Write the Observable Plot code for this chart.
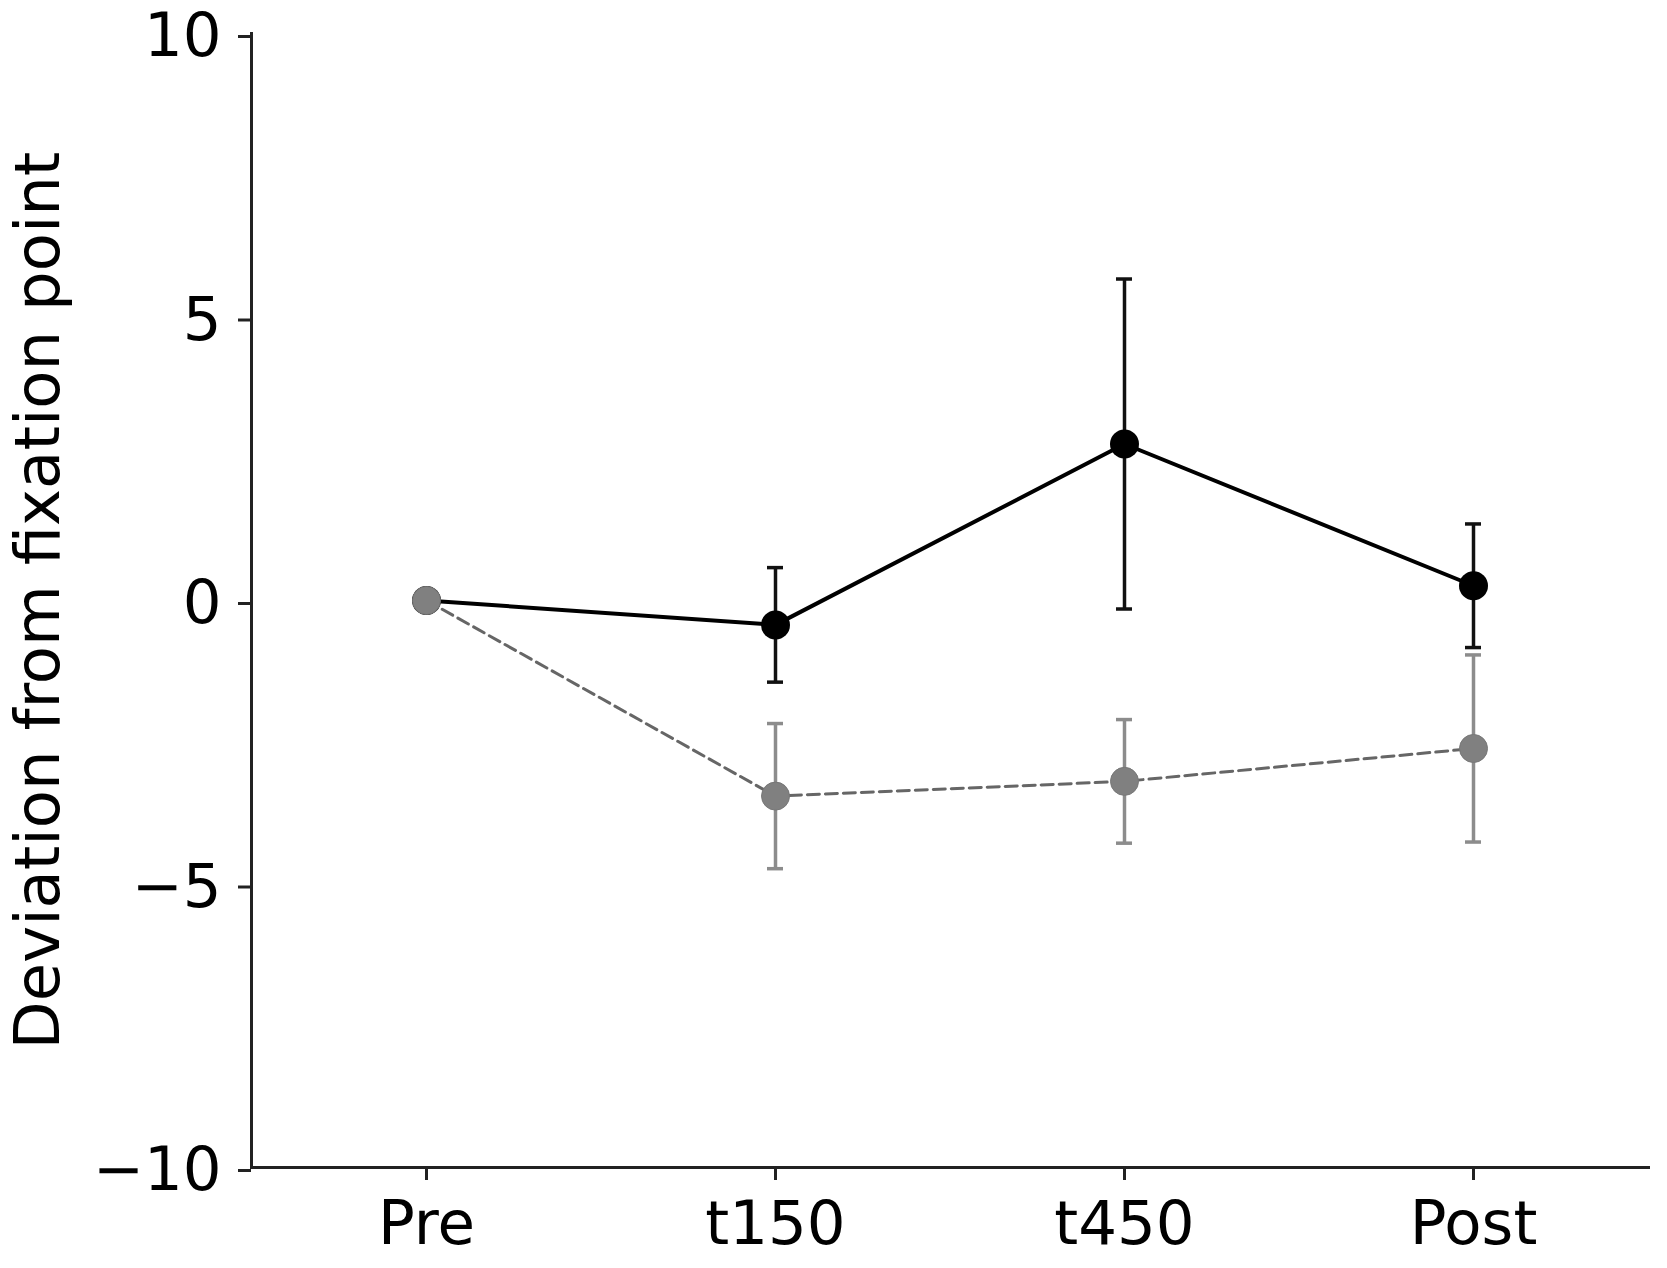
<!DOCTYPE html>
<html>
<head>
<meta charset="utf-8">
<script src="https://cdn.jsdelivr.net/npm/d3@7"></script>
<script src="https://cdn.jsdelivr.net/npm/@observablehq/plot@0.6"></script>
<style>
  html, body { margin: 0; padding: 0; background: white; overflow: hidden; }
</style>
</head>
<body>
<div id="chart"></div>
<script>
const categories = ["Pre", "t150", "t450", "Post"];
const meanBlack = [0, -0.43, 2.76, 0.26];
const errBlack = [null, 1.01, 2.91, 1.09];
const meanGray = [0, -3.45, -3.19, -2.61];
const errGray = [null, 1.28, 1.09, 1.65];
const yTicks = [-10, -5, 0, 5, 10];
const yLabel = "Deviation from fixation point";

const black = categories.map((c, i) => ({cat: c, mean: meanBlack[i], err: errBlack[i]}));
const gray = categories.map((c, i) => ({cat: c, mean: meanGray[i], err: errGray[i]}));
const blackErr = black.filter(d => d.err != null);
const grayErr = gray.filter(d => d.err != null);

const fmt = d => d < 0 ? "\u2212" + Math.abs(d) : String(d);

const chart = Plot.plot({
  width: 1667,
  height: 1268,
  marginLeft: 251,
  marginRight: 19,
  marginTop: 33,
  marginBottom: 101,
  style: {fontFamily: "DejaVu Sans", fontSize: "61px", background: "white", color: "#000"},
  x: {type: "point", domain: categories, padding: 0.5},
  y: {domain: [-10, 10]},
  marks: [
    Plot.frame({anchor: "left", stroke: "#222", strokeWidth: 3}),
    Plot.frame({anchor: "bottom", stroke: "#222", strokeWidth: 3}),
    Plot.axisX({tickSize: 13, tickPadding: 20, label: null, strokeWidth: 3, stroke: "#222"}),
    Plot.axisY({ticks: yTicks, tickFormat: fmt, tickSize: 13, tickPadding: 17, label: null, dy: 3, strokeWidth: 3, stroke: "#222"}),
    Plot.text([yLabel], {text: d => d, frameAnchor: "left", rotate: -90, dx: -213, textAnchor: "middle", lineAnchor: "middle", fontSize: 62.5, fill: "#000"}),
    // black series
    Plot.line(black, {x: "cat", y: "mean", stroke: "#000", strokeWidth: 4}),
    Plot.ruleX(blackErr, {x: "cat", y1: d => d.mean - d.err, y2: d => d.mean + d.err, stroke: "#111", strokeWidth: 3.5}),
    Plot.ruleY(blackErr, {y: d => d.mean + d.err, x1: "cat", x2: "cat", insetLeft: -8, insetRight: -8, stroke: "#111", strokeWidth: 3.5}),
    Plot.ruleY(blackErr, {y: d => d.mean - d.err, x1: "cat", x2: "cat", insetLeft: -8, insetRight: -8, stroke: "#111", strokeWidth: 3.5}),
    Plot.dot(black, {x: "cat", y: "mean", r: 14.5, fill: "#000", stroke: "none"}),
    // gray series
    Plot.line(gray, {x: "cat", y: "mean", stroke: "#666", strokeWidth: 3, strokeDasharray: "12,6"}),
    Plot.ruleX(grayErr, {x: "cat", y1: d => d.mean - d.err, y2: d => d.mean + d.err, stroke: "#8c8c8c", strokeWidth: 3.5}),
    Plot.ruleY(grayErr, {y: d => d.mean + d.err, x1: "cat", x2: "cat", insetLeft: -8, insetRight: -8, stroke: "#8c8c8c", strokeWidth: 3.5}),
    Plot.ruleY(grayErr, {y: d => d.mean - d.err, x1: "cat", x2: "cat", insetLeft: -8, insetRight: -8, stroke: "#8c8c8c", strokeWidth: 3.5}),
    Plot.dot(gray, {x: "cat", y: "mean", r: 14, fill: "#808080", stroke: "#777", strokeWidth: 1})
  ]
});
document.getElementById("chart").appendChild(chart);
</script>
</body>
</html>
